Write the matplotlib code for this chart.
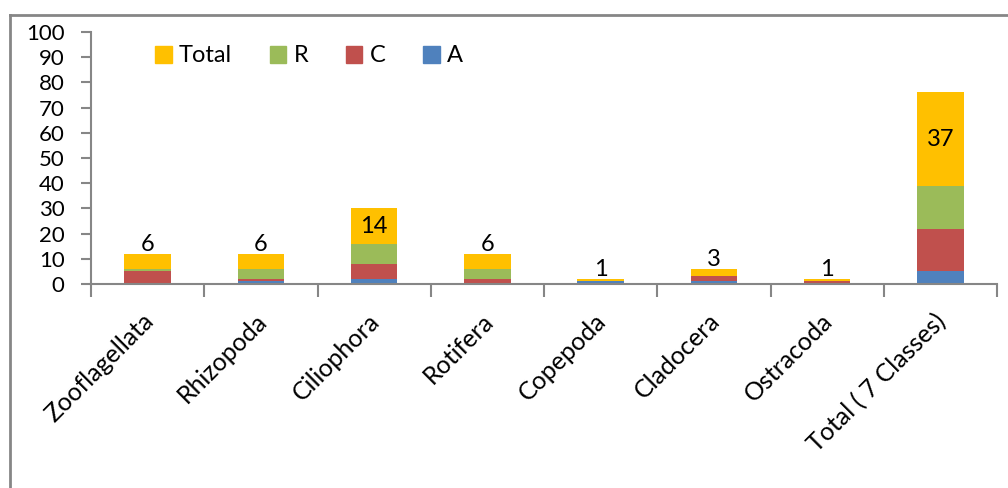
import numpy as np
import matplotlib.pyplot as plt
import matplotlib.transforms as mtransforms
from matplotlib.lines import Line2D
from matplotlib.patches import Patch

plt.rcParams['font.family'] = ['Lato', 'DejaVu Sans']

categories = ["Zooflagellata", "Rhizopoda", "Ciliophora", "Rotifera",
              "Copepoda", "Cladocera", "Ostracoda", "Total ( 7 Classes)"]
A = [0, 1, 2, 0, 1, 1, 0, 5]
C = [5, 1, 6, 2, 0, 2, 1, 17]
R = [1, 4, 8, 4, 0, 0, 0, 17]
total = [6, 6, 14, 6, 1, 3, 1, 37]

colors = {"A": "#4f81bd", "C": "#c0504d", "R": "#9bbb59", "Total": "#ffc000"}
axis_grey = "#868686"
fs = 17

fig = plt.figure(figsize=(10.08, 4.88), dpi=100)
ax = fig.add_axes([91 / 1008, 1 - 284 / 488, 906 / 1008, 252 / 488])

x = np.arange(len(categories))
w = 0.41
bottom = np.zeros(len(categories))
for name, vals in [("A", A), ("C", C), ("R", R), ("Total", total)]:
    ax.bar(x, vals, w, bottom=bottom, color=colors[name], zorder=2)
    if name != "Total":
        bottom = bottom + np.array(vals)

# value labels on the Total segment
for xi, b, t in zip(x, bottom, total):
    if t >= 10:
        y = b + t / 2
    else:
        y = b + t + 3.8
    ax.text(xi, y, str(t), ha='center', va='center', fontsize=fs, zorder=3)

ax.set_xlim(-0.5, len(categories) - 0.5)
ax.set_ylim(0, 100)
ax.set_yticks(np.arange(0, 101, 10))
ax.tick_params(axis='y', labelsize=16, length=7, width=1.5, color=axis_grey, pad=12)

ax.set_xticks(x)
ax.set_xticklabels(categories, rotation=45, ha='right', va='center',
                   rotation_mode='anchor', fontsize=18)
ax.tick_params(axis='x', which='major', length=0, pad=24)
ax.set_xticks(np.arange(-0.5, len(categories)), minor=True)
ax.tick_params(axis='x', which='minor', length=9, width=1.5, color=axis_grey)
offset = mtransforms.ScaledTranslation(2 / 100, 0, fig.dpi_scale_trans)
for lbl in ax.get_xticklabels():
    lbl.set_transform(lbl.get_transform() + offset)

for side in ['top', 'right']:
    ax.spines[side].set_visible(False)
for side in ['left', 'bottom']:
    ax.spines[side].set_color(axis_grey)
    ax.spines[side].set_linewidth(1.5)

handles = [Patch(color=colors[n]) for n in ["Total", "R", "C", "A"]]
fig.legend(handles, ["Total", "R", "C", "A"], loc='center left',
           bbox_to_anchor=(134 / 1008, 1 - 56 / 488), ncol=4, frameon=False,
           fontsize=fs, handlelength=0.7, handleheight=0.7, handletextpad=0.3,
           columnspacing=1.6)

# outer chart frame
fig.add_artist(Line2D([10 / 1008, 10 / 1008], [0, 1 - 15 / 488],
                      color=axis_grey, lw=2, transform=fig.transFigure))
fig.add_artist(Line2D([10 / 1008, 1], [1 - 15 / 488, 1 - 15 / 488],
                      color=axis_grey, lw=2, transform=fig.transFigure))

fig.savefig("out.png", dpi=100)
